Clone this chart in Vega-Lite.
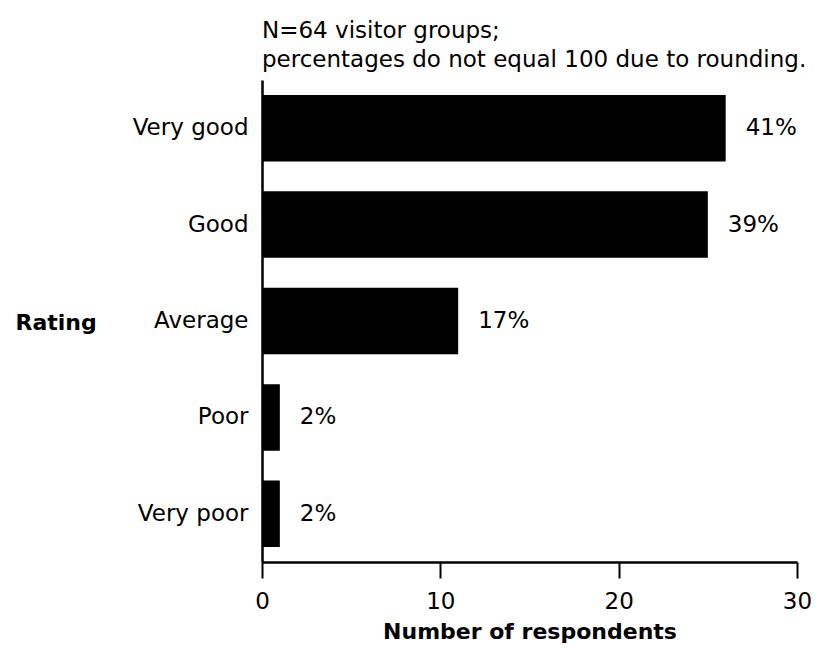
{
  "$schema": "https://vega.github.io/schema/vega-lite/v6.json",
  "width": 535,
  "height": 482,
  "autosize": {"type": "none"},
  "padding": {"left": 262, "top": 80, "right": 27, "bottom": 86},
  "background": "white",
  "config": {
    "font": "DejaVu Sans",
    "view": {"stroke": null}
  },
  "title": {
    "text": ["N=64 visitor groups;", "percentages do not equal 100 due to rounding."],
    "anchor": "start",
    "frame": "group",
    "fontSize": 23,
    "fontWeight": "normal",
    "lineHeight": 29,
    "offset": 8,
    "color": "black",
    "font": "DejaVu Sans"
  },
  "data": {
    "values": [
      {"rating": "Very good", "count": 26, "pct": "41%"},
      {"rating": "Good", "count": 25, "pct": "39%"},
      {"rating": "Average", "count": 11, "pct": "17%"},
      {"rating": "Poor", "count": 1, "pct": "2%"},
      {"rating": "Very poor", "count": 1, "pct": "2%"}
    ]
  },
  "encoding": {
    "y": {
      "field": "rating",
      "type": "nominal",
      "sort": ["Very good", "Good", "Average", "Poor", "Very poor"],
      "scale": {"paddingInner": 0.31, "paddingOuter": 0.155},
      "axis": {
        "title": "Rating",
        "titleAngle": 0,
        "titleAlign": "left",
        "titleBaseline": "middle",
        "titleX": -247,
        "titleY": 242,
        "titleFontWeight": "bold",
        "titleFontSize": 22,
        "titleColor": "black",
        "labelFontSize": 23,
        "labelPadding": 14,
        "labelColor": "black",
        "ticks": false,
        "domainColor": "black",
        "domainWidth": 2.5
      }
    },
    "x": {
      "field": "count",
      "type": "quantitative",
      "scale": {"domain": [0, 30]},
      "axis": {
        "title": "Number of respondents",
        "values": [0, 10, 20, 30],
        "grid": false,
        "labelFlush": false,
        "tickSize": 16,
        "tickColor": "black",
        "tickWidth": 2,
        "domainColor": "black",
        "domainWidth": 2.5,
        "labelFontSize": 23,
        "labelPadding": 12,
        "labelColor": "black",
        "titleFontSize": 22,
        "titleFontWeight": "bold",
        "titleColor": "black",
        "titleBaseline": "alphabetic",
        "titleY": 76
      }
    }
  },
  "layer": [
    {"mark": {"type": "bar", "color": "black"}},
    {
      "mark": {"type": "text", "align": "left", "baseline": "middle", "dx": 20, "fontSize": 23, "color": "black"},
      "encoding": {"text": {"field": "pct"}}
    }
  ]
}
